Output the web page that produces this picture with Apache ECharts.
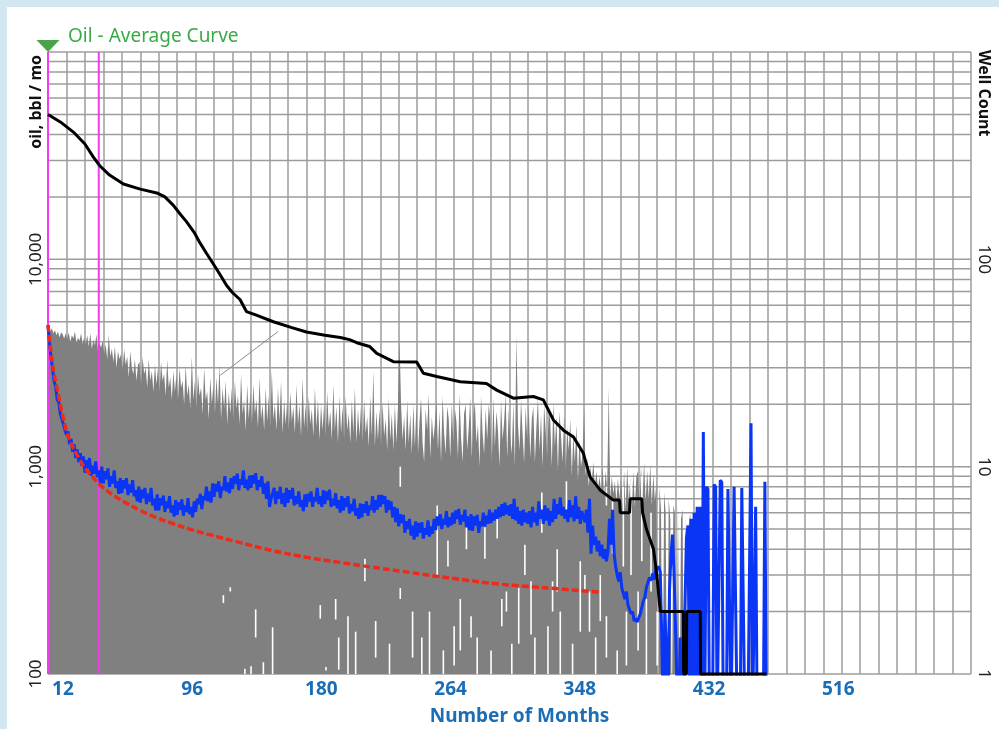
<!DOCTYPE html>
<html><head><meta charset="utf-8">
<script src="https://cdn.jsdelivr.net/npm/echarts@6/dist/echarts.min.js"></script>
<style>
html,body{margin:0;padding:0;background:#d3e7f3;width:999px;height:729px;overflow:hidden}
#chart{position:absolute;left:7px;top:7px;width:992px;height:722px;background:#fff}
</style></head><body><div id="chart"></div>
<script>
// ---- data ----
const xTickLabels = [12, 96, 180, 264, 348, 432, 516];
const leftTicks = [100, 1000, 10000];
const rightTicks = [1, 10, 100];
const gridValues = [100,200,300,400,500,600,700,800,900,1000,2000,3000,4000,5000,6000,7000,8000,9000,10000,20000,30000,40000,50000,60000,70000,80000,90000,100000];
const markerMonths = [0, 33];

// average oil rate, bbl/mo, month 0..467
const oilAvg = [
4820,3950,3350,2950,2580,2420,2100,2050,1800,1790,1600,1590,
1420,1480,1280,1360,1180,1280,1100,1210,1050,1160,1010,1120,
935,1075,980,1100,905,1010,925,1060,890,960,830,1000,
830,950,870,980,800,900,830,960,790,850,740,880,
745,860,785,880,730,820,750,860,720,770,680,800,
670,775,705,790,660,740,680,790,650,700,615,735,
615,705,650,725,605,680,630,720,600,650,575,690,
585,675,620,695,580,650,605,705,590,640,570,680,
605,700,660,740,625,720,690,800,680,760,670,830,
715,825,760,850,705,800,770,900,760,840,745,880,
780,900,825,925,770,870,820,960,790,865,770,905,
790,910,830,930,770,860,800,900,740,830,700,850,
640,700,690,790,660,760,700,800,660,745,640,790,
670,770,700,790,650,720,660,760,640,690,610,735,
640,740,680,760,640,715,680,790,660,720,640,770,
660,760,690,775,640,700,650,745,630,690,600,720,
615,705,640,720,595,660,610,700,580,630,560,665,
570,660,600,680,580,650,620,720,600,690,620,730,
640,730,660,720,600,690,620,680,570,640,540,630,
515,590,535,585,480,545,500,560,465,520,445,545,
460,535,480,540,450,505,470,550,460,515,475,560,
495,575,520,590,500,560,525,610,510,570,520,600,
530,615,560,625,525,585,545,620,510,575,495,590,
490,575,520,585,480,545,515,600,515,580,530,620,
535,600,550,620,560,640,570,660,580,670,590,650,
580,660,560,700,550,640,530,610,520,620,540,600,
530,610,510,640,540,600,520,680,560,620,530,650,
550,630,520,610,540,700,560,660,590,710,580,640,
560,620,540,690,570,650,545,720,560,640,530,610,
600,540,620,480,700,380,520,420,460,390,440,370,
420,360,400,350,390,560,420,620,380,330,300,280,
310,260,260,230,250,215,215,195,200,180,185,178,
175,195,195,225,235,262,262,292,282,305,285,318,
320,330,310,150,60,200,130,60,250,380,470,300,
160,80,60,150,60,60,200,450,520,80,560,70,
600,80,640,90,640,60,1470,80,800,780,60,60,
60,820,800,60,60,860,840,60,60,60,780,770,
60,60,800,790,60,60,60,790,780,60,60,60,
60,1620,60,60,640,60,60,60,60,60,846,60
];

// upper envelope of individual well rates, bbl/mo, month 0..425
const wellsTop = [
4900,4700,4500,4650,4400,4550,4300,4500,4200,4450,4350,4150,
4400,4100,4450,4000,4300,4150,4500,3950,4200,4050,4400,3900,
4200,3900,4300,3800,4400,3700,4100,3850,4350,3600,3950,3750,
4050,3500,3900,3300,4300,3400,3700,3200,3800,3000,3600,3300,
3500,2900,3700,3100,3400,2700,3600,3000,2800,3300,2600,3100,
3200,2500,3400,2800,3000,2400,3300,2600,2900,2300,3100,2500,
3000,2300,3200,2600,2800,2200,3300,2400,2700,2100,2900,2300,
2800,2100,3000,2400,2600,2000,3100,2200,2500,1900,3400,2100,
2600,1900,2800,2200,2400,1800,3000,2100,2300,1700,2700,2000,
2500,1800,2700,2000,3100,1700,2400,1900,2600,1600,2300,1800,
2400,1700,2600,1900,2200,1600,2800,1800,2100,1500,2500,1700,
2300,1600,2500,1800,2100,1550,2700,1700,2000,1500,2400,1650,
2200,1550,2900,1700,2000,1500,2400,1650,2600,1450,2100,1600,
2100,1500,2300,1650,1950,1450,2500,1600,2000,1400,2700,1550,
2000,1450,2200,1600,1900,1400,2400,1550,2100,1350,2000,1500,
2000,1400,2300,1550,1850,1350,2500,1500,1950,1300,2200,1450,
1950,1350,2200,1500,1800,1300,2100,1450,2400,1300,1900,1400,
2000,1300,2100,1450,1750,1250,2200,1400,2900,1250,1850,1350,
1900,1250,2050,1400,1700,1200,2150,1350,1800,1200,2000,1300,
1950,4200,2000,1350,1750,1200,2100,1300,1800,1150,2000,1250,
2000,1150,1650,2150,1300,1050,1900,1500,2250,1100,1750,1350,
1600,2100,1200,1850,1050,2200,1450,1150,1950,1700,1100,2050,
1300,1900,1650,1100,2250,1400,1050,1800,2000,1200,1550,2150,
1100,1750,2050,1300,1600,1000,2200,1450,1150,1900,1350,2000,
1700,1050,2150,1250,1850,1500,1000,2100,1350,1650,2250,1100,
1900,1400,1150,2050,1000,4300,1600,1200,2100,1450,1050,1950,
1350,2000,1100,1700,1950,1050,1550,2150,1200,1800,1000,2000,
1500,1100,1900,1650,1000,2050,1250,1750,950,1850,1400,1050,
1800,950,1550,1200,1700,900,1450,1050,1600,850,1350,1000,
1150,1900,900,1100,800,1000,850,1050,800,950,780,900,
760,1000,720,950,780,2400,700,900,740,850,680,880,
700,900,650,950,620,1000,680,880,600,950,640,900,
950,660,1000,700,1050,680,960,700,1030,650,920,680,
850,50,800,620,50,750,600,50,700,560,50,650,
600,50,680,50,560,620,50,580,50,520,600,50,
550,50,500,50,450,50
];

// gaps in the well traces: [month, low, high]
const traceGaps = [
[114,220,240],[118.5,250,262],[128,100,106],[132,100,109],[135,150,205],[140,100,114],[146,100,168],
[177,185,215],[180.7,104,108],[187,183,230],[189,105,150],[195,100,190],[200,100,160],[206,280,360],
[213,120,180],[222,100,140],[229,800,1000],[229,230,260],[237,120,200],[243,100,150],[248,100,200],
[253,300,650],[257,100,130],[260,330,440],[264,110,170],[268,130,230],[272,400,520],[275,150,190],
[279,100,150],[284,360,510],[288,100,130],[292,450,560],[295,170,230],[298,200,250],[301.5,100,140],
[306,140,260],[310,300,420],[314,155,280],[316.5,100,150],[321,480,750],[325,100,170],[328,200,280],
[331,250,400],[333,100,200],[337,600,850],[341,100,140],[346,160,350],[349,250,300],[352,160,250],
[356,100,150],[359,180,300],[363,120,190],[363,650,800],[367,380,700],[370,100,130],[374,330,800],
[376,110,200],[379,300,850],[383.6,130,250],[386,350,900],[389,100,230],[392,250,600],[396,110,200]
];

// fitted decline curve: [month, bbl/mo]
const declineFit = [
[0,4820],[1,4100],[2,3550],[3,3120],[4,2800],[5,2560],[6,2360],[7,2170],[8,1990],[9,1840],[10,1710],
[11,1590],[12,1480],[14,1350],[16,1250],[18,1170],[20,1100],[23,1010],[26,945],[30,875],[34,815],
[40,750],[46,700],[52,660],[60,615],[70,570],[80,535],[92,500],[105,470],[125,430],[145,395],
[168,366],[190,345],[210,328],[230,313],[250,298],[270,285],[290,273],[310,265],[333,257],[360,248]
];

// well count: [month, wells]
const wellCount = [
[0,500],[8,460],[16.5,411],[24,360],[29.5,311],[33.8,282],[40,255],[49,231],[60,218],[70.7,209],
[76,200],[81.5,182],[86,165],[90,152],[95,135],[98.8,120],[103,107],[107.5,95],[112,84],[116,75],
[120,69],[124.8,64],[129,56],[135,54],[146.5,50],[158,47],[168,44.6],[180,43],[190,42],[196,41],
[200.7,39.6],[209,38],[213.7,35.2],[224.5,32.1],[239.7,32],[244,28.2],[252.7,27.2],[268,25.7],
[285,25.2],[291.7,23.4],[302.5,21.4],[315.5,21.8],[322,21],[328.5,16.8],[335,15],[341.6,13.9],
[348,11.6],[352.4,8.9],[359,7.7],[367.5,6.9],[371.5,6.9],[372,6],[378,6],[378.5,7],[386,7],
[386.5,6],[389,5],[393.6,4],[395.8,3],[398,2],[413,2],[413.2,1],[415,1],[415.2,2],[424,2],[424.2,1],[467,1]
];

// one stray single-well trace segment
const strayTrace = [[112,2760],[149.5,4480]];

// ---- chart ----
const FONT = '"Noto Sans", "Open Sans", sans-serif';
const X_MIN = 0, X_MAX = 600, Y_MIN = 100, Y_MAX = 100000;
const chart = echarts.init(document.getElementById('chart'), null, {renderer: 'canvas'});
const fmt = v => String(Math.round(v)).replace(/\B(?=(\d{3})+(?!\d))/g, ',');

chart.setOption({
  animation: false,
  backgroundColor: 'transparent',
  grid: {left: 41, top: 45, right: 28, bottom: 55, outerBoundsMode: 'none', containLabel: false},
  graphic: [
    {type: 'text', x: 61, y: 30, silent: true,
     style: {text: 'Oil - Average Curve', fill: '#3aaa48', font: '19px ' + FONT, textVerticalAlign: 'middle', verticalAlign: 'middle'}},
    {type: 'text', x: 29.5, y: 48, rotation: Math.PI / 2, silent: true,
     style: {text: 'oil, bbl / mo', fill: '#111', font: 'bold 16px ' + FONT, textAlign: 'right', align: 'right', textVerticalAlign: 'middle', verticalAlign: 'middle'}},
    {type: 'text', x: 976.5, y: 43, rotation: -Math.PI / 2, silent: true,
     style: {text: 'Well Count', fill: '#111', font: 'bold 16px ' + FONT, textAlign: 'left', align: 'left', textVerticalAlign: 'middle', verticalAlign: 'middle'}}
  ],
  xAxis: {
    type: 'value', min: X_MIN, max: X_MAX, interval: 12,
    name: 'Number of Months', nameLocation: 'middle', nameGap: 33,
    nameTextStyle: {fontSize: 19, fontWeight: 'bold', color: '#1b6db6', fontFamily: FONT, padding: [0, 0, 0, 20]},
    axisLine: {show: false}, axisTick: {show: false},
    splitLine: {show: true, lineStyle: {color: '#9c9c9c', width: 1.5}},
    axisLabel: {
      formatter: v => xTickLabels.includes(v) ? String(v) : '',
      fontSize: 19, fontWeight: 'bold', color: '#1b6db6', fontFamily: FONT, margin: 6, padding: [0, 7, 0, 0]
    }
  },
  yAxis: [
    {type: 'log', logBase: 10, min: Y_MIN, max: Y_MAX, position: 'left',
     axisLine: {show: false}, axisTick: {show: false}, splitLine: {show: false},
     axisLabel: {rotate: 90, margin: 3, fontSize: 17, color: '#222', fontFamily: FONT,
                 showMaxLabel: false, formatter: v => leftTicks.includes(v) ? fmt(v) : ''}},
    {type: 'log', logBase: 10, min: 1, max: 1000, position: 'right',
     axisLine: {show: false}, axisTick: {show: false}, splitLine: {show: false},
     axisLabel: {rotate: -90, margin: 4, fontSize: 17, color: '#222', fontFamily: FONT,
                 showMaxLabel: false, formatter: v => rightTicks.includes(v) ? String(v) : ''}}
  ],
  series: [
    { // horizontal grid (1-2-...-9 log grid)
      type: 'custom', z: 1, silent: true, clip: false,
      data: gridValues.map(v => [X_MIN, v]),
      encode: {x: 0, y: 1},
      renderItem: (p, api) => {
        const v = api.value(1);
        const a = api.coord([X_MIN, v]), b = api.coord([X_MAX, v]);
        return {type: 'line', shape: {x1: a[0], y1: a[1], x2: b[0], y2: b[1]}, style: {stroke: '#9c9c9c', lineWidth: 1.5}};
      }
    },
    { // individual wells envelope
      type: 'line', z: 2, silent: true, step: 'middle', symbol: 'none',
      data: wellsTop.map((v, i) => [i, v]),
      lineStyle: {width: 0}, areaStyle: {color: '#808080', opacity: 1, origin: 'start'}
    },
    { // gaps between well traces
      type: 'custom', z: 3, silent: true, clip: true,
      dimensions: ['m', 'lo', 'hi'], encode: {x: 0, y: [1, 2]},
      data: traceGaps,
      renderItem: (p, api) => {
        const m = api.value(0);
        const t = api.coord([m, api.value(2)]), b = api.coord([m, api.value(1)]);
        return {type: 'rect', shape: {x: t[0] - 0.8, y: t[1], width: 1.6, height: b[1] - t[1]}, style: {fill: '#ffffff'}};
      }
    },
    {
      type: 'line', z: 3, silent: true, symbol: 'none', data: strayTrace,
      lineStyle: {color: '#8c8c8c', width: 1}
    },
    { // magenta markers
      type: 'custom', z: 4, silent: true, clip: false,
      data: markerMonths.map(m => [m, 1000]), encode: {x: 0, y: 1},
      renderItem: (p, api) => {
        const m = api.value(0);
        const a = api.coord([m, Y_MAX]), b = api.coord([m, Y_MIN]);
        return {type: 'line', shape: {x1: a[0], y1: a[1], x2: b[0], y2: b[1]}, style: {stroke: '#f23cf2', lineWidth: 2}};
      }
    },
    { // average curve
      type: 'line', z: 5, silent: true, symbol: 'none', clip: true,
      data: oilAvg.map((v, i) => [i, v]),
      lineStyle: {color: '#0b35f5', width: 3}
    },
    { // fitted decline
      type: 'line', z: 6, silent: true, symbol: 'none', smooth: true,
      data: declineFit,
      lineStyle: {color: '#ee2a1a', width: 3.5, type: [7, 3]}
    },
    { // well count
      type: 'line', z: 7, silent: true, symbol: 'none', yAxisIndex: 1, clip: false,
      data: wellCount,
      lineStyle: {color: '#000000', width: 3}
    },
    { // start marker triangle
      type: 'scatter', z: 8, silent: true, clip: false,
      data: [[markerMonths[0], Y_MAX]],
      symbol: 'triangle', symbolSize: [23, 12], symbolRotate: 180, symbolOffset: [0, -6],
      itemStyle: {color: '#1c8c1c'}
    }
  ]
});
</script></body></html>
